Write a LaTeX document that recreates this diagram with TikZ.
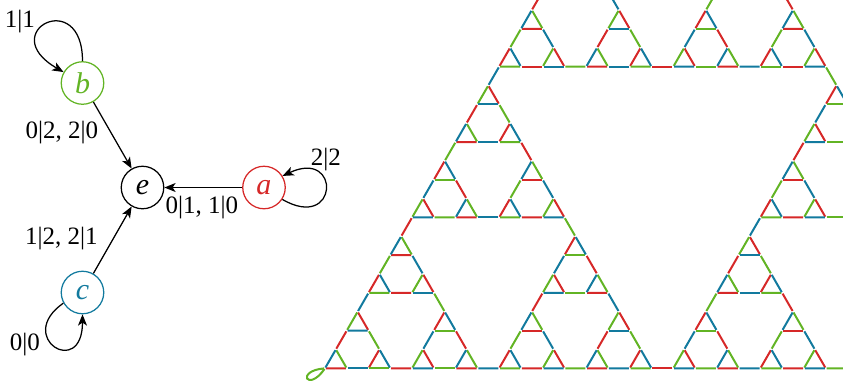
\documentclass[tikz,border=0pt]{standalone}
\usepackage{fontspec}
\setmainfont{Liberation Serif}
\usetikzlibrary{calc,arrows.meta}
\definecolor{cR}{RGB}{214,40,40}
\definecolor{cG}{RGB}{98,180,36}
\definecolor{cB}{RGB}{18,122,158}
\tikzset{
  hcol0/.style={draw=cB}, hcol1/.style={draw=cG}, hcol2/.style={draw=cR},
  hedge/.style={line width=0.8pt, shorten <=0.35pt, shorten >=0.35pt},
  state/.style={circle, draw, line width=0.5pt, minimum size=17pt, inner sep=0pt, font=\fontsize{12}{12}\selectfont\itshape},
  arr/.style={line width=0.5pt, -{Stealth[length=4.5pt,width=3.6pt,inset=1.2pt]}},
  lbl/.style={font=\fontsize{10}{12}\selectfont, inner sep=0pt},
}
\def\hanoi#1{%
  \ifnum#1>0
    \begingroup
    \edef\hlev{\number#1}%
    \edef\hlevm{\number\numexpr#1-1\relax}%
    \pgfmathsetmacro\hr{(2^\hlevm-1)/(2^\hlev-1)}%
    \hconn{0}{1}{2}\hconn{0}{2}{1}\hconn{1}{2}{0}%
    \ifnum\hlevm>0
      \hsub{0}{1}{2}\hsub{1}{2}{0}\hsub{2}{0}{1}%
    \fi
    \endgroup
  \fi}
\def\hconn#1#2#3{%
  \draw[hedge,hcol#3] ($(L\hlev-#1)!\hr!(L\hlev-#2)$) -- ($(L\hlev-#2)!\hr!(L\hlev-#1)$);}
\def\hsub#1#2#3{%
  \coordinate (L\hlevm-#1) at (L\hlev-#1);
  \coordinate (L\hlevm-#2) at ($(L\hlev-#1)!\hr!(L\hlev-#3)$);
  \coordinate (L\hlevm-#3) at ($(L\hlev-#1)!\hr!(L\hlev-#2)$);
  \hanoi{\hlevm}}
\begin{document}
\begin{tikzpicture}[x=0.4pt,y=0.4pt]
\useasboundingbox (0,0) rectangle (843,-382);
% automaton
\node[state, draw=cG, text=cG] (b) at (82.5,-83) {b};
\node[state] (e) at (142.5,-187.5) {e};
\node[state, draw=cR, text=cR] (a) at (264,-187.5) {a};
\node[state, draw=cB, text=cB] (c) at (82.5,-292.5) {c};
\draw[arr] (b) -- (e);
\draw[arr] (c) -- (e);
\draw[arr] (a) -- (e);
\draw[arr] (b.north) .. controls +(90:75) and +(150:80) .. (b.150);
\draw[arr] (c.209) .. controls +(215:60) and +(270:65) .. (c.south);
\draw[arr] (a.-33) .. controls +(-30:65) and +(25:65) .. (a.32);
\node[lbl] (l11) at (20,-22) {1|1};
\node[lbl] (l0220) at (62,-133) {0|2, 2|0};
\node[lbl] (l1221) at (61.5,-239) {1|2, 2|1};
\node[lbl] (l00) at (25,-345) {0|0};
\node[lbl] (l22) at (326,-160) {2|2};
\node[lbl] (l0110) at (202,-208) {0|1, 1|0};
% Schreier graph
\begin{scope}
\clip (0,0) rectangle (843,-382);
\coordinate (L5-1) at (325,-368.3);
\coordinate (L5-0) at (999.87,-368.3);
\coordinate (L5-2) at (662.435,216.14);
\coordinate (hBL) at (325,-368.3);
\hanoi{5}
\draw[hedge,hcol1] (hBL) .. controls +(185:30) and +(235:30) .. (hBL);
\end{scope}
\end{tikzpicture}
\end{document}
